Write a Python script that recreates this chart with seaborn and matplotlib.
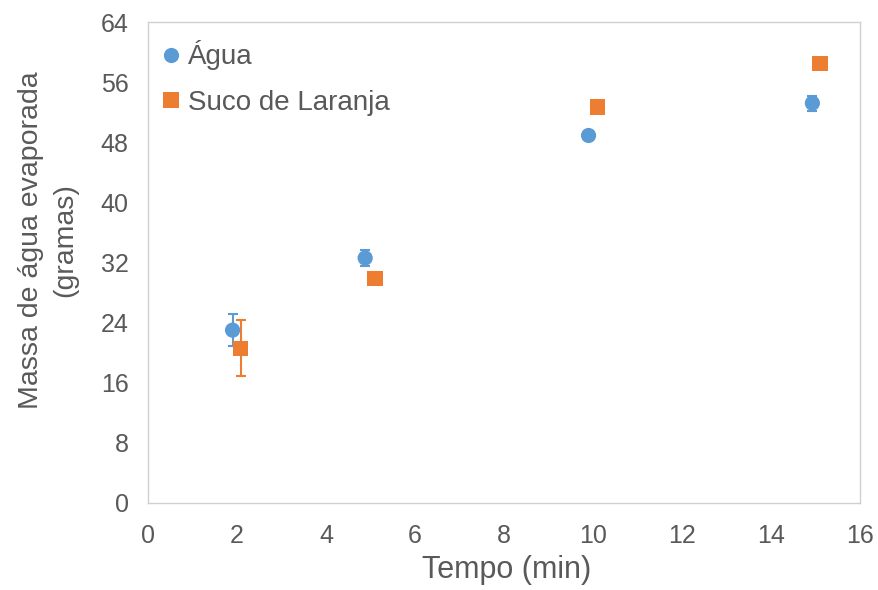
import pandas as pd
import matplotlib.pyplot as plt
import seaborn as sns

series = ['Água', 'Suco de Laranja']
tempo_agua = [1.9, 4.88, 9.9, 14.93]
massa_agua = [23.0, 32.6, 48.9, 53.2]
erro_agua = [2.1, 1.0, 0.4, 1.0]
tempo_suco = [2.08, 5.1, 10.1, 15.1]
massa_suco = [20.6, 29.9, 52.7, 58.5]
erro_suco = [3.7, 0.3, 0.8, 0.3]

colors = {'Água': '#5b9bd5', 'Suco de Laranja': '#ed7d31'}
gray = '#595959'

df = pd.concat([
    pd.DataFrame({'Tempo': tempo_agua, 'Massa': massa_agua, 'Erro': erro_agua, 'Serie': series[0]}),
    pd.DataFrame({'Tempo': tempo_suco, 'Massa': massa_suco, 'Erro': erro_suco, 'Serie': series[1]}),
])

sns.set_style('white')
plt.rcParams['font.family'] = ['Liberation Sans', 'DejaVu Sans']

fig = plt.figure(figsize=(8.79, 5.90), dpi=100)
ax = fig.add_axes([148 / 879, 1 - 503 / 590, 712 / 879, 481 / 590])

for s in series:
    d = df[df['Serie'] == s]
    ax.errorbar(d['Tempo'], d['Massa'], yerr=d['Erro'], fmt='none',
                ecolor=colors[s], elinewidth=1.5, capsize=3.5, capthick=1.5, zorder=2)

sns.scatterplot(data=df, x='Tempo', y='Massa', hue='Serie', style='Serie',
                markers={'Água': 'o', 'Suco de Laranja': 's'}, palette=colors,
                s=120, edgecolor='none', linewidth=0, ax=ax, zorder=3)

ax.set_xlim(0, 16)
ax.set_ylim(0, 64)
ax.set_xticks(range(0, 17, 2))
ax.set_yticks(range(0, 65, 8))
ax.tick_params(axis='both', length=0, labelsize=18, labelcolor=gray)
ax.tick_params(axis='x', pad=15)
ax.tick_params(axis='y', pad=14)
for sp in ax.spines.values():
    sp.set_color('#d0d0d0')
    sp.set_linewidth(1)

ax.set_xlabel('Tempo (min)', fontsize=22, color=gray)
ax.xaxis.set_label_coords(0.504, -0.108)
ax.set_ylabel('Massa de água evaporada\n(gramas)', fontsize=20.5, color=gray,
              linespacing=1.4)
ax.yaxis.set_label_coords(-0.098, 0.547)

leg = ax.legend(loc='upper left', frameon=False, fontsize=20, labelcolor=gray,
                handletextpad=0.2, borderaxespad=0, borderpad=0, labelspacing=0.7,
                handlelength=0.8, markerscale=1.0,
                bbox_to_anchor=(0.017, 0.962))

fig.savefig('out.png', dpi=100)
